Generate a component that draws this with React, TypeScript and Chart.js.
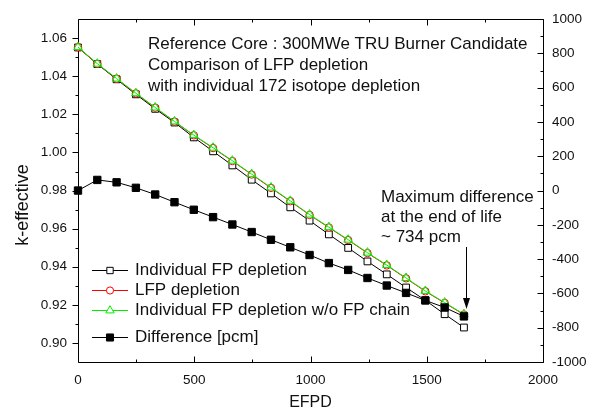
import React, { useEffect, useRef } from 'react';
import { Chart, registerables } from 'chart.js';

Chart.register(...registerables);

// ---- data ----
const efpd = [0, 83, 166, 249, 332, 415, 498, 581, 664, 747, 830, 913, 996, 1079, 1162, 1245, 1328, 1411, 1494, 1577, 1660];
const individualFP = [1.0551, 1.0464, 1.0384, 1.0305, 1.0229, 1.0157, 1.0079, 1.0006, 0.9932, 0.9857, 0.9785, 0.9712, 0.9642, 0.9570, 0.9499, 0.9428, 0.9360, 0.9291, 0.9224, 0.9151, 0.9081];
const lfpDepletion = [1.0552, 1.0465, 1.0387, 1.0310, 1.0235, 1.0162, 1.0090, 1.0023, 0.9955, 0.9884, 0.9814, 0.9744, 0.9672, 0.9606, 0.9540, 0.9472, 0.9407, 0.9339, 0.9271, 0.9210, 0.9149];
const individualNoChain = [1.0553, 1.0466, 1.0388, 1.0311, 1.0236, 1.0163, 1.0091, 1.0025, 0.9957, 0.9886, 0.9816, 0.9746, 0.9674, 0.9608, 0.9542, 0.9474, 0.9409, 0.9341, 0.9273, 0.9212, 0.9151];
const differencePcm = [0, 62, 48, 16, -23, -68, -112, -155, -198, -242, -287, -331, -376, -423, -463, -510, -554, -597, -641, -682, -734];

const xTicks = [0, 500, 1000, 1500, 2000];
const kTicks = [0.90, 0.92, 0.94, 0.96, 0.98, 1.00, 1.02, 1.04, 1.06];
const pcmTicks = [-1000, -800, -600, -400, -200, 0, 200, 400, 600, 800, 1000];

const seriesLabels = [
  'Individual FP depletion',
  'LFP depletion',
  'Individual FP depletion w/o FP chain',
  'Difference [pcm]',
];
const titleLines = [
  'Reference Core : 300MWe TRU Burner Candidate',
  'Comparison of LFP depletion',
  'with individual 172 isotope depletion',
];
const noteLines = ['Maximum difference', 'at the end of life', '~ 734 pcm'];

const FONT = '"Liberation Sans", Arial, Helvetica, sans-serif';
const TEXT = '#111';

function marker(ctx: CanvasRenderingContext2D, style: string, x: number, y: number, r: number, stroke: string, fill: string) {
  ctx.save();
  ctx.lineWidth = 1;
  ctx.strokeStyle = stroke;
  ctx.fillStyle = fill;
  ctx.beginPath();
  if (style === 'rect') {
    const s = Math.SQRT1_2 * r;
    ctx.rect(x - s, y - s, 2 * s, 2 * s);
  } else if (style === 'circle') {
    ctx.arc(x, y, r, 0, Math.PI * 2);
  } else {
    const a = Math.PI * 2 / 3;
    ctx.moveTo(x, y - r);
    ctx.lineTo(x + Math.sin(a) * r, y - Math.cos(a) * r);
    ctx.lineTo(x + Math.sin(2 * a) * r, y - Math.cos(2 * a) * r);
    ctx.closePath();
  }
  ctx.fill();
  ctx.stroke();
  ctx.restore();
}

const framePlugin = {
  id: 'originFrame',
  beforeDatasetsDraw(chart: any) {
    const ctx: CanvasRenderingContext2D = chart.ctx;
    const { left, right, top, bottom } = chart.chartArea;
    const xs = chart.scales.x;
    const yk = chart.scales.yK;
    const yp = chart.scales.yP;
    const L = Math.round(left) + 0.5, R = Math.round(right) + 0.5;
    const T = Math.round(top) + 0.5, B = Math.round(bottom) + 0.5;
    ctx.save();
    ctx.strokeStyle = '#000';
    ctx.lineWidth = 1;
    ctx.beginPath();
    ctx.rect(L, T, R - L, B - T);
    // left axis: outward ticks
    const kMinor: number[] = [];
    for (let i = 0; i < kTicks.length - 1; i++) kMinor.push((kTicks[i] + kTicks[i + 1]) / 2);
    kTicks.forEach(v => { const y = Math.round(yk.getPixelForValue(v)) + 0.5; ctx.moveTo(L - 6, y); ctx.lineTo(L, y); });
    kMinor.forEach(v => { const y = Math.round(yk.getPixelForValue(v)) + 0.5; ctx.moveTo(L - 3, y); ctx.lineTo(L, y); });
    // right axis: inward ticks
    const pMinor: number[] = [];
    for (let i = 0; i < pcmTicks.length - 1; i++) pMinor.push((pcmTicks[i] + pcmTicks[i + 1]) / 2);
    pcmTicks.forEach(v => { const y = Math.round(yp.getPixelForValue(v)) + 0.5; ctx.moveTo(R - 6, y); ctx.lineTo(R, y); });
    pMinor.forEach(v => { const y = Math.round(yp.getPixelForValue(v)) + 0.5; ctx.moveTo(R - 3, y); ctx.lineTo(R, y); });
    // bottom and top: inward ticks
    const xMinor: number[] = [];
    for (let i = 0; i < xTicks.length - 1; i++) xMinor.push((xTicks[i] + xTicks[i + 1]) / 2);
    xTicks.forEach(v => {
      const x = Math.round(xs.getPixelForValue(v)) + 0.5;
      ctx.moveTo(x, B - 6); ctx.lineTo(x, B);
      ctx.moveTo(x, T); ctx.lineTo(x, T + 6);
    });
    xMinor.forEach(v => {
      const x = Math.round(xs.getPixelForValue(v)) + 0.5;
      ctx.moveTo(x, B - 3); ctx.lineTo(x, B);
      ctx.moveTo(x, T); ctx.lineTo(x, T + 3);
    });
    ctx.stroke();
    ctx.restore();
  },
  afterDatasetsDraw(chart: any) {
    const ctx: CanvasRenderingContext2D = chart.ctx;
    const { left, right } = chart.chartArea;
    ctx.save();
    ctx.fillStyle = TEXT;
    ctx.textBaseline = 'middle';
    ctx.textAlign = 'left';
    ctx.font = `17px ${FONT}`;
    titleLines.forEach((t, i) => ctx.fillText(t, 148, 44 + i * 21));
    noteLines.forEach((t, i) => ctx.fillText(t, 381, 197 + i * 20.3));

    // arrow
    const ax = 466.5;
    ctx.strokeStyle = '#000';
    ctx.lineWidth = 1;
    ctx.beginPath();
    ctx.moveTo(ax, 247);
    ctx.lineTo(ax, 300);
    ctx.stroke();
    ctx.fillStyle = '#000';
    ctx.beginPath();
    ctx.moveTo(ax, 309);
    ctx.lineTo(ax - 3.5, 298);
    ctx.lineTo(ax + 3.5, 298);
    ctx.closePath();
    ctx.fill();

    // legend
    const rows = [
      { y: 270, style: 'rect', color: '#000', fill: '#fff', r: 4.5 },
      { y: 289.5, style: 'circle', color: '#ff0000', fill: '#fff', r: 3.6 },
      { y: 310, style: 'triangle', color: '#00ee00', fill: '#fff', r: 4.8 },
      { y: 337, style: 'rect', color: '#000', fill: '#000', r: 5 },
    ];
    rows.forEach((row, i) => {
      ctx.strokeStyle = row.color;
      ctx.lineWidth = 1;
      ctx.beginPath();
      ctx.moveTo(92, Math.round(row.y) + 0.5);
      ctx.lineTo(128, Math.round(row.y) + 0.5);
      ctx.stroke();
      marker(ctx, row.style, 110, Math.round(row.y) + 0.5, row.r, row.color, row.fill);
      ctx.fillStyle = TEXT;
      ctx.font = `17px ${FONT}`;
      ctx.fillText(seriesLabels[i], 135, row.y + 0.5);
    });

    // axis titles
    ctx.textAlign = 'center';
    ctx.font = `16px ${FONT}`;
    ctx.fillText('EFPD', (left + right) / 2, 403);
    ctx.save();
    ctx.translate(23, 205);
    ctx.rotate(-Math.PI / 2);
    ctx.font = `18px ${FONT}`;
    ctx.fillText('k-effective', 0, 0);
    ctx.restore();
    ctx.restore();
  },
};

const pts = (ys: number[]) => ys.map((y, i) => ({ x: efpd[i], y }));

export default function App() {
  const ref = useRef<HTMLCanvasElement | null>(null);
  useEffect(() => {
    if (!ref.current) return;
    const tickFont = { family: FONT, size: 13.5 };
    const chart = new Chart(ref.current, {
      type: 'line',
      data: {
        datasets: [
          {
            label: seriesLabels[3], data: pts(differencePcm), yAxisID: 'yP', order: 0,
            borderColor: '#000', backgroundColor: '#000', borderWidth: 1,
            pointStyle: 'rect', pointRadius: 5.2, pointBorderColor: '#000', pointBackgroundColor: '#000', pointBorderWidth: 1,
            clip: false as any,
          },
          {
            label: seriesLabels[2], data: pts(individualNoChain), yAxisID: 'yK', order: 1,
            borderColor: '#00ee00', backgroundColor: '#fff', borderWidth: 1,
            pointStyle: 'triangle', pointRadius: 5, pointBorderColor: '#00ee00', pointBackgroundColor: 'rgba(255,255,255,0)', pointBorderWidth: 1,
            clip: false as any,
          },
          {
            label: seriesLabels[1], data: pts(lfpDepletion), yAxisID: 'yK', order: 2,
            borderColor: '#ff0000', backgroundColor: '#fff', borderWidth: 1,
            pointStyle: 'circle', pointRadius: 3.7, pointBorderColor: '#ff0000', pointBackgroundColor: '#fff', pointBorderWidth: 1,
            clip: false as any,
          },
          {
            label: seriesLabels[0], data: pts(individualFP), yAxisID: 'yK', order: 3,
            borderColor: '#000', backgroundColor: '#fff', borderWidth: 1,
            pointStyle: 'rect', pointRadius: 4.8, pointBorderColor: '#000', pointBackgroundColor: '#fff', pointBorderWidth: 1,
            clip: false as any,
          },
        ],
      },
      options: {
        responsive: false,
        animation: false,
        events: [],
        layout: { padding: { top: 18, left: 0, right: 0, bottom: 0 } },
        plugins: { legend: { display: false }, tooltip: { enabled: false }, title: { display: false } },
        elements: { line: { tension: 0 } },
        scales: {
          x: {
            type: 'linear', position: 'bottom', min: 0, max: 2000,
            grid: { display: false, drawTicks: false }, border: { display: false },
            ticks: { font: tickFont, color: TEXT, padding: 10, autoSkip: false, maxRotation: 0, callback: (v: any) => String(Math.round(Number(v))) },
            afterBuildTicks: (s: any) => { s.ticks = xTicks.map(v => ({ value: v })); },
            afterFit: (s: any) => { s.height = 50; },
          },
          yK: {
            type: 'linear', position: 'left', min: 0.89, max: 1.07,
            grid: { display: false, drawTicks: false }, border: { display: false },
            ticks: { font: tickFont, color: TEXT, padding: 11, autoSkip: false, callback: (v: any) => Number(v).toFixed(2) },
            afterBuildTicks: (s: any) => { s.ticks = kTicks.map(v => ({ value: v })); },
            afterFit: (s: any) => { s.width = 78; },
          },
          yP: {
            type: 'linear', position: 'right', min: -1000, max: 1000,
            grid: { display: false, drawTicks: false }, border: { display: false },
            ticks: { font: tickFont, color: TEXT, padding: 9, autoSkip: false, callback: (v: any) => String(Math.round(Number(v))) },
            afterBuildTicks: (s: any) => { s.ticks = pcmTicks.map(v => ({ value: v })); },
            afterFit: (s: any) => { s.width = 51; },
          },
        },
      } as any,
      plugins: [framePlugin],
    });
    return () => chart.destroy();
  }, []);
  return (
    <div style={{ position: 'fixed', left: 0, top: 0, width: 594, height: 412, background: '#fff' }}>
      <canvas ref={ref} width={594} height={412} style={{ display: 'block', width: 594, height: 412 }} />
    </div>
  );
}
